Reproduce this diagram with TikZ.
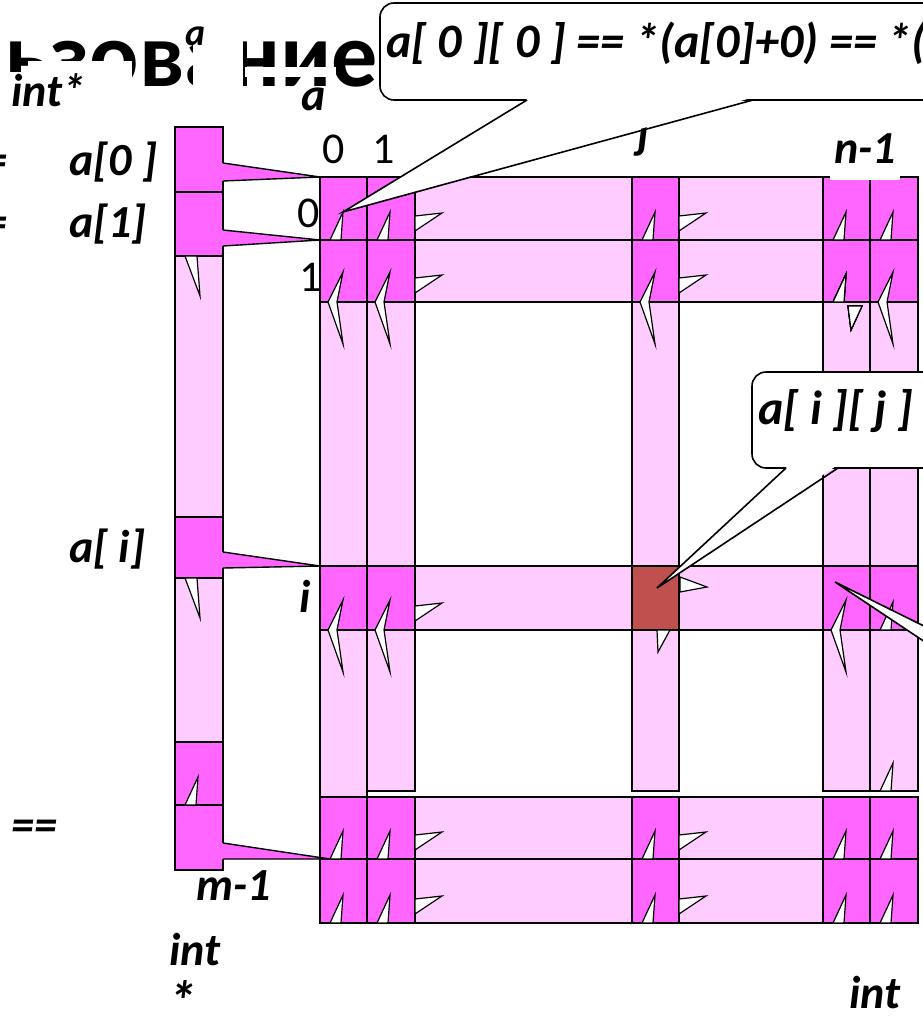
\documentclass[tikz,border=0pt]{standalone}
\usepackage{fontspec}
\setmainfont{Carlito}
\definecolor{lite}{HTML}{FFCCFF}
\definecolor{mag}{HTML}{FF66FF}
\definecolor{cellred}{HTML}{C0504D}
\tikzset{
  lbl/.style={font=\fontsize{46}{50}\selectfont\bfseries\itshape, inner sep=1pt},
  num/.style={font=\fontsize{44}{48}\selectfont, inner sep=1pt},
  litebox/.style={fill=lite, draw=black, line width=1.4pt},
  magbox/.style={fill=mag, draw=black, line width=1.4pt},
  spike/.style={fill=white, draw=black, line width=1.2pt},
  callout/.style={fill=white, draw=black, line width=1.6pt}
}
% white arrow bits, #1 = left edge of the column, #2 = edge of the row
\newcommand\upspike[2]{\draw[spike] (#1+10,#2) -- (#1+23,#2-28) -- (#1+21,#2) -- cycle;}
\newcommand\downspike[2]{\draw[spike] (#1+10,#2) -- (#1+25,#2+40) -- (#1+22,#2) -- cycle;}
\newcommand\leftchev[2]{\draw[spike] (#1+23,#2-30) -- (#1+8,#2) -- (#1+23,#2+42) -- (#1+17,#2) -- cycle;}
\newcommand\rightspike[2]{\draw[spike] (#1,#2-24) -- (#1+27,#2-27) -- (#1,#2-9) -- cycle;}

\begin{document}
\begin{tikzpicture}[x=1pt, y=-1pt]
  \clip (0,0) rectangle (923,1017);
  % slide title, mostly covered
  \node[anchor=base east, font=\fontsize{92}{92}\selectfont\bfseries, inner sep=0pt] (title) at (378,86) {Использование};
  \fill[white] (28,61) rectangle (132,92);
  \fill[white] (193,40) rectangle (243,92);
  \fill[white] (245,67) rectangle (336,77);
  \node[lbl, fill=white, anchor=base west] (ptrtype) at (10,106) {int*};
  \node[lbl, font=\fontsize{38}{40}\selectfont\bfseries\itshape] (aname) at (196,36) {a};
  \node[lbl, anchor=base west] (aname2) at (300,110) {a};

  % left labels
  \node[lbl, anchor=base east] (eq0) at (9,175) {=};
  \node[lbl, anchor=base east] (eq1) at (9,237) {=};
  \node[lbl, anchor=base west] (row0ptr) at (68,175) {a[0 ]};
  \node[lbl, anchor=base west] (row1ptr) at (68,237) {a[1]};
  \node[lbl, anchor=base west] (rowiptr) at (68,562) {a[ i]};
  \node[lbl, anchor=base west] (eqeq) at (10,840) {==};
  \node[lbl, anchor=base west] (lastidx) at (195,900) {m-1};
  \node[lbl, anchor=base west] (ptrint) at (168,965) {int};
  \node[lbl, font=\fontsize{56}{60}\selectfont\bfseries\itshape] (ptrstar) at (182,1000) {*};
  \node[lbl, anchor=base west] (elemint) at (848,1008) {int};

  % indices
  \node[num, anchor=base west] (col0) at (321,163) {0};
  \node[num, anchor=base west] (col1) at (371,163) {1};
  \node[num, anchor=base west] (row0) at (296,227) {0};
  \node[num, anchor=base west] (row1) at (298,291) {1};
  \node[lbl, anchor=base west] (colj) at (636,148) {j};
  \node[lbl, anchor=base west] (rowi) at (298,612) {i};

  % columns of the matrix
  \draw[litebox] (320,177) rectangle (367,797);
  \draw[litebox] (367,177) rectangle (415,791);
  \draw[litebox] (632,177) rectangle (679,791);
  \draw[litebox] (823,177) rectangle (870,791);
  \draw[litebox] (870,177) rectangle (918,791);
  % rows of the matrix
  \foreach \ya/\yb in {177/240, 240/302, 566/630, 797/859, 859/923}
    \draw[litebox] (320,\ya) rectangle (918,\yb);
  \foreach \xa/\xb in {320/367, 367/415, 632/679, 823/870, 870/918} {
    \foreach \ya/\yb in {177/240, 240/302, 797/859, 859/923}
      \draw[magbox] (\xa,\ya) rectangle (\xb,\yb);
  }
  \foreach \xa/\xb in {320/367, 367/415, 823/870, 870/918}
    \draw[magbox] (\xa,566) rectangle (\xb,630);
  \draw[fill=cellred, draw=black, line width=1.4pt] (632,566) rectangle (679,630);

  % array of row pointers
  \draw[magbox] (175,127) rectangle (223,192);
  \draw[magbox] (175,192) rectangle (223,256);
  \draw[litebox] (175,256) rectangle (223,517);
  \draw[magbox] (175,517) rectangle (223,578);
  \draw[litebox] (175,578) rectangle (223,742);
  \draw[magbox] (175,742) rectangle (223,805);
  \draw[magbox] (175,805) rectangle (223,870);
  \fill[mag] (222,163) -- (320,177) -- (222,181) -- cycle;
  \draw[line width=1.4pt] (223,163) -- (320,177) -- (223,181);
  \fill[mag] (222,230) -- (320,240) -- (222,246) -- cycle;
  \draw[line width=1.4pt] (223,230) -- (320,240) -- (223,246);
  \fill[mag] (222,552) -- (320,566) -- (222,568) -- cycle;
  \draw[line width=1.4pt] (223,552) -- (320,566) -- (223,568);
  \fill[mag] (222,843) -- (330,859) -- (222,859) -- cycle;
  \draw[line width=1.4pt] (223,843) -- (330,859) -- (223,859);

  % arrow bits
  \downspike{175}{256}
  \downspike{175}{578}
  \upspike{175}{805}
  \foreach \c in {320,367,632,823,870} {
    \upspike{\c}{240}
    \upspike{\c}{859}
    \upspike{\c}{923}
  }
  \foreach \c in {320,367,632,870}
    \leftchev{\c}{302}
  \upspike{823}{302}
  \draw[spike] (848,306) -- (851,330) -- (862,306) -- cycle;
  \leftchev{320}{630}
  \leftchev{367}{630}
  \leftchev{823}{630}
  \upspike{870}{630}
  \upspike{870}{791}
  \draw[spike] (680,577) -- (707,587) -- (680,592) -- cycle;
  \draw[spike] (657,630) -- (658,652) -- (670,630) -- cycle;
  \foreach \r in {240,302,859,923} {
    \rightspike{415}{\r}
    \rightspike{679}{\r}
  }
  \rightspike{415}{630}

  \node[lbl, fill=white, inner xsep=4pt, text depth=16pt, anchor=base west] (lastcol) at (830,163) {n-1};

  % callouts
  \coordinate (tip1) at (343,212);
  \coordinate (tip2) at (657,588);
  \coordinate (tip3) at (835,582);
  \draw[callout, rounded corners=14pt] (380,3) rectangle (950,100);
  \fill[white] (529,98) -- (tip1) -- (751,98) -- cycle;
  \draw[line width=1.6pt] (527,100) -- (tip1) -- (753,100);
  \node[lbl, font=\fontsize{48}{52}\selectfont\bfseries\itshape, anchor=base west] (firstelem) at (385,57) {a[ 0 ][ 0 ] == *(a[0]+0) == *(a[0])};
  \draw[callout, rounded corners=14pt] (752,372) rectangle (950,468);
  \fill[white] (788,466) -- (tip2) -- (836,466) -- cycle;
  \draw[line width=1.6pt] (786,468) -- (tip2) -- (838,468);
  \node[lbl, font=\fontsize{48}{52}\selectfont\bfseries\itshape, anchor=base west] (anyelem) at (757,424) {a[ i ][ j ]};
  \draw[callout] (tip3) -- (940,634) -- (940,652) -- cycle;
\end{tikzpicture}
\end{document}
